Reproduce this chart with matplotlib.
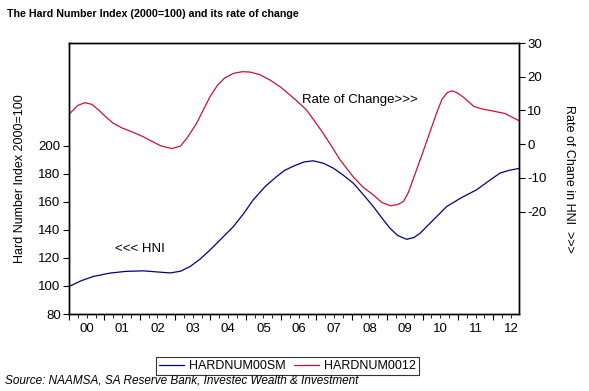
import matplotlib
matplotlib.use("Agg")
import matplotlib.pyplot as plt
import numpy as np
from matplotlib.lines import Line2D
from matplotlib.transforms import blended_transform_factory

plt.rcParams['font.family'] = ['Liberation Sans', 'DejaVu Sans']

# HNI level (left axis)
hni_years = [2000.03, 2000.35, 2000.69, 2001.16, 2001.6, 2002.1, 2002.5, 2002.86,
             2003.15, 2003.42, 2003.7, 2003.99, 2004.3, 2004.65, 2004.95, 2005.21,
             2005.55, 2005.87, 2006.1, 2006.35, 2006.65, 2006.91, 2007.2, 2007.48,
             2007.76, 2008.04, 2008.33, 2008.61, 2008.85, 2009.08, 2009.3, 2009.55,
             2009.75, 2009.93, 2010.3, 2010.68, 2011.1, 2011.53, 2011.85, 2012.19,
             2012.45, 2012.72]
hni_vals = [100.0, 103.8, 106.8, 109.2, 110.4, 110.8, 110.0, 109.3,
            110.5, 113.8, 119.0, 125.7, 133.5, 142.4, 152.0, 161.4,
            171.0, 178.0, 182.5, 185.5, 188.5, 189.3, 187.5, 184.0,
            179.0, 173.4, 165.0, 156.6, 148.5, 141.2, 136.0, 133.3,
            134.5, 137.6, 147.0, 156.6, 163.0, 168.6, 174.5, 180.5,
            182.5, 183.8]

# 12-month rate of change (right axis)
roc_years = [2000.03, 2000.25, 2000.45, 2000.65, 2000.85, 2001.05, 2001.25, 2001.5,
             2001.75, 2002.1, 2002.35, 2002.6, 2002.9, 2003.15, 2003.35, 2003.61,
             2003.8, 2003.99, 2004.2, 2004.4, 2004.65, 2004.9, 2005.12, 2005.4,
             2005.69, 2006.0, 2006.25, 2006.5, 2006.72, 2006.95, 2007.19, 2007.45,
             2007.67, 2008.04, 2008.3, 2008.61, 2008.85, 2009.1, 2009.3, 2009.46,
             2009.6, 2009.8, 2010.0, 2010.2, 2010.4, 2010.55, 2010.7, 2010.83,
             2010.95, 2011.15, 2011.45, 2011.7, 2011.96, 2012.33, 2012.72]
roc_vals = [9.2, 11.5, 12.3, 11.8, 10.0, 8.0, 6.2, 4.8,
            3.8, 2.2, 0.8, -0.5, -1.3, -0.6, 2.0, 6.2,
            10.2, 14.1, 17.5, 19.6, 21.0, 21.5, 21.4, 20.6,
            19.0, 16.8, 14.6, 12.3, 10.1, 6.8, 3.2, -1.0,
            -4.7, -9.7, -12.6, -15.1, -17.3, -18.3, -17.9, -17.0,
            -14.3, -8.5, -2.7, 3.3, 9.3, 13.3, 15.3, 15.8,
            15.4, 14.0, 11.2, 10.4, 9.9, 9.1, 7.0]

year_labels = ['00', '01', '02', '03', '04', '05', '06', '07', '08', '09', '10', '11', '12']

fig = plt.figure(figsize=(5.89, 3.91), dpi=100)
ax = fig.add_axes([0.1172, 0.1969, 0.764, 0.693])
ax2 = ax.twinx()

blue = '#00008b'
red = '#cc1133'

ax.plot(hni_years, hni_vals, color=blue, lw=0.9)
ax2.plot(roc_years, roc_vals, color=red, lw=0.9)

ax.set_xlim(2000.0, 2012.73)
ax.set_ylim(80, 273.3)
ax2.set_ylim(-50.4, 30)

ax.set_yticks([80, 100, 120, 140, 160, 180, 200])
ax2.set_yticks([-20, -10, 0, 10, 20, 30])
ax2.set_yticklabels(['-20', '-10', '0', '10', '20', '30'])

years = np.arange(2000, 2013)
ax.set_xticks(years)
ax.set_xticklabels([])
ax.set_xticks(np.arange(2000, 2012.75, 0.25), minor=True)
ax.tick_params(axis='x', which='major', length=4, direction='out')
ax.tick_params(axis='x', which='minor', length=3, direction='out')
ax.tick_params(axis='y', length=4, direction='out', labelsize=9.5, pad=2)
ax2.tick_params(axis='y', length=4, direction='out', labelsize=9.5, pad=2)

trans = blended_transform_factory(ax.transData, ax.transAxes)
for yr, lab in zip(years, year_labels):
    ax.text(yr + 0.5, -0.035, lab, transform=trans, ha='center', va='top', fontsize=9.5)

for a in (ax, ax2):
    for s in a.spines.values():
        s.set_linewidth(1.0)

ax.set_ylabel('Hard Number Index 2000=100', fontsize=9, labelpad=9)
ax2.set_ylabel('Rate of Chane in HNI  >>>', fontsize=9, rotation=270, labelpad=20)

ax.text(2006.6, 232.4, 'Rate of Change>>>', fontsize=9.5, ha='left', va='center')
ax.text(2001.3, 126.4, '<<< HNI', fontsize=9.5, ha='left', va='center')

fig.text(0.012, 0.965, 'The Hard Number Index (2000=100) and its rate of change',
         fontsize=7.7, fontweight='bold', ha='left', va='center')

handles = [Line2D([], [], color=blue, lw=0.9), Line2D([], [], color=red, lw=0.9)]
leg = fig.legend(handles, ['HARDNUM00SM', 'HARDNUM0012'], loc='center',
                 bbox_to_anchor=(0.488, 0.064), ncol=2, fontsize=9, frameon=True,
                 fancybox=False, edgecolor='black', handlelength=2.0,
                 handletextpad=0.4, columnspacing=0.7, borderpad=0.25)
leg.get_frame().set_linewidth(0.8)

fig.text(0.008, 0.028, 'Source: NAAMSA, SA Reserve Bank, Investec Wealth & Investment',
         fontsize=8.5, style='italic', ha='left', va='center')

fig.savefig('out.png', dpi=100)
